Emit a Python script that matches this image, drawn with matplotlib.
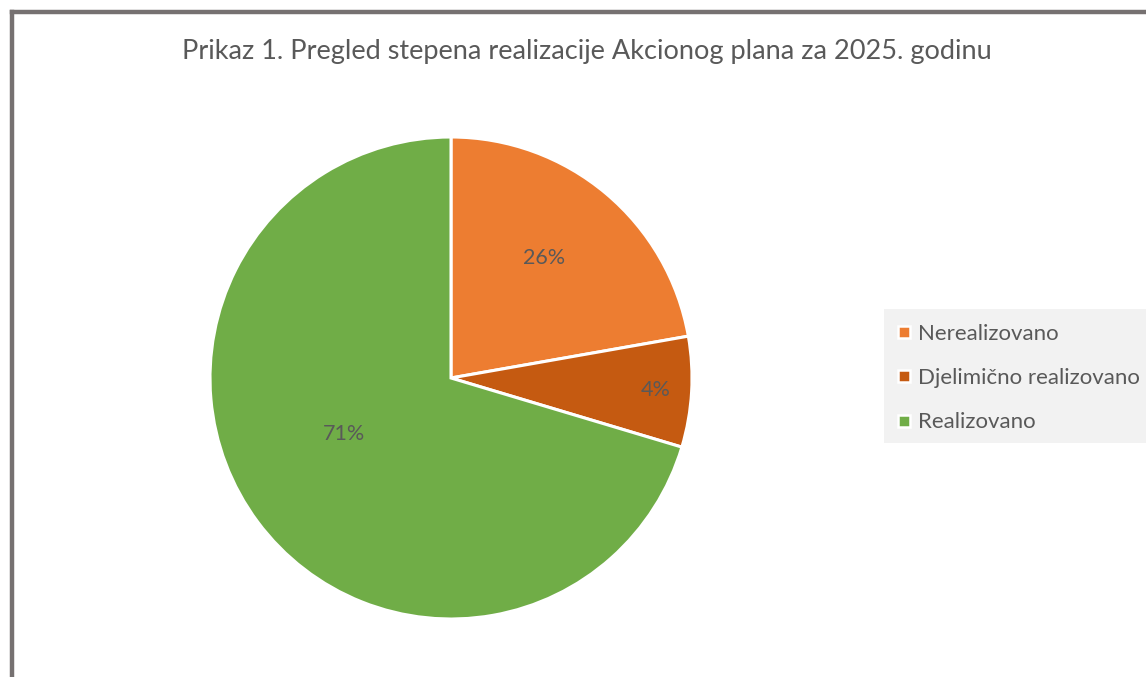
import math

import matplotlib

matplotlib.use("Agg")
import matplotlib.pyplot as plt
from matplotlib.patches import Rectangle
from matplotlib.lines import Line2D

# Data (counts; labels as printed on the chart)
categories = ["Nerealizovano", "Djelimično realizovano", "Realizovano"]
counts = [6, 2, 19]
pct_labels = ["26%", "4%", "71%"]
title = "Prikaz 1. Pregled stepena realizacije Akcionog plana za 2025. godinu"

colors = ["#ED7D31", "#C55A11", "#70AD47"]
text_color = "#595959"
plt.rcParams["font.family"] = ["Lato", "DejaVu Sans"]

W, H = 1146, 677
fig = plt.figure(figsize=(W / 100, H / 100), dpi=100)
fig.patch.set_facecolor("white")

# outer chart frame (runs off the right and bottom edges)
frame = "#767171"
fig.add_artist(Line2D([12 / W, 12 / W], [0, 1 - 11.5 / H], color=frame, lw=3.2,
                      transform=fig.transFigure, solid_capstyle="projecting"))
fig.add_artist(Line2D([12 / W, 1], [1 - 11.5 / H, 1 - 11.5 / H], color=frame, lw=3.2,
                      transform=fig.transFigure, solid_capstyle="projecting"))

fig.text(587 / W, 1 - 51 / H, title, ha="center", va="center", fontsize=19.5, color=text_color)

cx, cy, r = 451, 378, 241
ax = fig.add_axes([(cx - r) / W, (H - cy - r) / H, 2 * r / W, 2 * r / H])
wedges, _ = ax.pie(counts, colors=colors, startangle=90, counterclock=False,
                   wedgeprops={"edgecolor": "white", "linewidth": 2.2})
ax.set_xlim(-1, 1)
ax.set_ylim(-1, 1)
ax.set_aspect("equal")
ax.axis("off")

# label placement roughly like Excel "best fit"
label_r = [0.63, 0.85, 0.5]
label_shift = [2, 0, -9]
for w, txt, lr, sh in zip(wedges, pct_labels, label_r, label_shift):
    ang = math.radians((w.theta1 + w.theta2) / 2 + sh)
    ax.text(lr * math.cos(ang), lr * math.sin(ang), txt, ha="center", va="center",
            fontsize=15.5, color=text_color)

# legend panel
fig.add_artist(Rectangle((884 / W, 1 - 443 / H), (W - 884) / W, 134 / H,
                         transform=fig.transFigure, facecolor="#F2F2F2", edgecolor="none"))
handles = [Line2D([], [], marker="s", linestyle="none", markersize=8.5, markerfacecolor=c,
                  markeredgecolor="white", markeredgewidth=1.8) for c in colors]
leg = fig.legend(handles, categories, loc="center left", bbox_to_anchor=(884 / W, 1 - 378 / H),
                 frameon=False, fontsize=16, labelspacing=1.1, handlelength=0.8,
                 handletextpad=0.25, borderpad=0)
for t in leg.get_texts():
    t.set_color(text_color)

fig.savefig("out.png", dpi=100)
